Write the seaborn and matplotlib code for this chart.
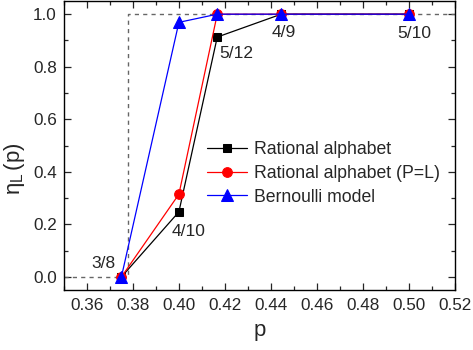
import matplotlib
matplotlib.use("Agg")
import matplotlib.pyplot as plt
import seaborn as sns
import pandas as pd
from matplotlib.ticker import AutoMinorLocator

sns.set_style("ticks")
plt.rcParams['font.family'] = ['Liberation Sans', 'DejaVu Sans']
plt.rcParams['mathtext.fontset'] = 'custom'
plt.rcParams['mathtext.rm'] = 'Liberation Sans'
plt.rcParams['mathtext.it'] = 'Liberation Sans'

p_vals = [3/8, 4/10, 5/12, 4/9, 5/10]
rational = [0.0, 0.248, 0.913, 1.0, 1.0]
rational_pl = [0.0, 0.315, 1.0, 1.0, 1.0]
bernoulli = [0.0, 0.969, 1.0, 1.0, 1.0]
frac_labels = ["3/8", "4/10", "5/12", "4/9", "5/10"]
label_x = [0.3674, 0.4043, 0.4248, 0.4457, 0.5022]
label_y = [0.05, 0.172, 0.851, 0.931, 0.927]
step_x = [0.35, 0.378, 0.378, 0.52]
step_y = [0.0, 0.0, 1.0, 1.0]

fig = plt.figure(figsize=(4.73, 3.5), dpi=100)
ax = fig.add_axes([0.135, 0.171, 0.827, 0.826])

ax.plot(step_x, step_y, ls=(0, (3, 3)), color="#666666", lw=1.0, zorder=1)

series = [
    ("Rational alphabet", rational, "black", "s", 6),
    ("Rational alphabet (P=L)", rational_pl, "red", "o", 7),
    ("Bernoulli model", bernoulli, "blue", "^", 8),
]
for name, vals, col, mk, ms in series:
    df = pd.DataFrame({"p": p_vals, "eta": vals})
    sns.lineplot(data=df, x="p", y="eta", ax=ax, color=col, marker=mk,
                 markersize=ms, markeredgecolor=col, lw=0.9, label=name,
                 sort=False, zorder=3)

for x, y, t in zip(label_x, label_y, frac_labels):
    ax.text(x, y, t, fontsize=12.5, ha="center", va="center")

ax.set_xlim(0.35, 0.52)
ax.set_ylim(-0.05, 1.05)
ax.set_xticks([0.36, 0.38, 0.40, 0.42, 0.44, 0.46, 0.48, 0.50, 0.52])
ax.set_yticks([0.0, 0.2, 0.4, 0.6, 0.8, 1.0])
ax.set_xticklabels(["0.36", "0.38", "0.40", "0.42", "0.44", "0.46", "0.48", "0.50", "0.52"])
ax.set_yticklabels(["0.0", "0.2", "0.4", "0.6", "0.8", "1.0"])
ax.xaxis.set_minor_locator(AutoMinorLocator(2))
ax.yaxis.set_minor_locator(AutoMinorLocator(2))
ax.tick_params(which="both", direction="in", top=True, right=True, labelsize=12.3, width=0.9)
ax.tick_params(which="major", length=5, pad=6)
ax.tick_params(which="minor", length=3)
ax.tick_params(axis="y", which="major", pad=5)
for s in ax.spines.values():
    s.set_linewidth(1.0)
    s.set_color("black")

ax.set_xlabel("p", fontsize=16, labelpad=5)
ax.set_ylabel(r"$\mathregular{\eta_{L}\,(p)}$", fontsize=16)
ax.yaxis.set_label_coords(-0.095, 0.42)

leg = ax.legend(loc="upper left", bbox_to_anchor=(0.365, 0.515), frameon=False,
                fontsize=12.7, handlelength=2.3, handletextpad=0.4,
                labelspacing=0.38, borderaxespad=0, borderpad=0)

fig.savefig("out.png", dpi=100)
